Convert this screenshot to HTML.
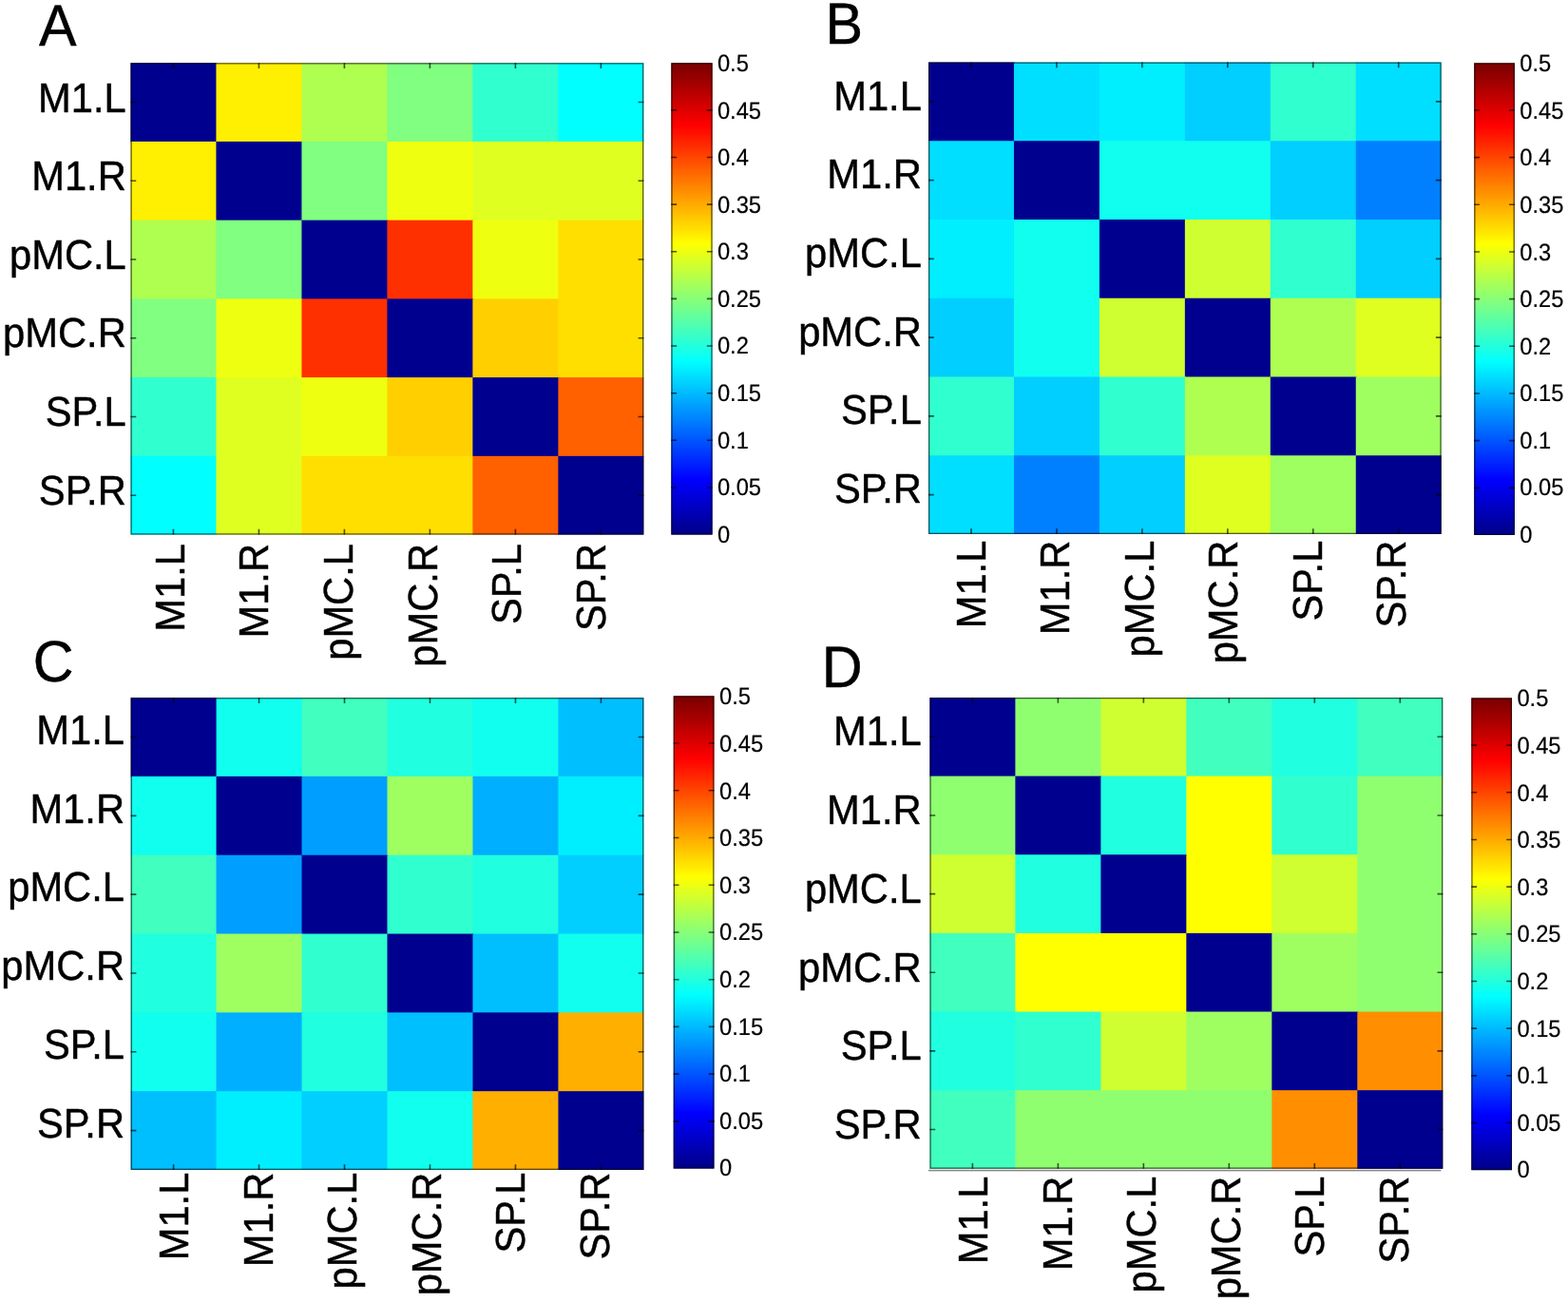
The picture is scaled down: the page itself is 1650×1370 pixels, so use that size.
<!DOCTYPE html>
<html lang="en"><head><meta charset="utf-8"><title>Connectivity matrices A-D</title>
<style>
html,body{margin:0;padding:0;background:#FFFFFF;width:1650px;height:1370px;}
svg{display:block;}
text{font-family:"Liberation Sans", Arial, Helvetica, sans-serif;fill:#000000;stroke:#000000;stroke-width:0.45px;stroke-linejoin:round;text-rendering:geometricPrecision;}
.t{font-size:41.7px;}
.c{font-size:23.7px;stroke-width:0.2px;}
.p{font-size:59.3px;}
</style></head><body>
<svg xmlns="http://www.w3.org/2000/svg" width="1650" height="1370" viewBox="0 0 1650 1370">
<defs><linearGradient id="jet" x1="0" y1="1" x2="0" y2="0">
<stop offset="0.00781" stop-color="#00008F"/>
<stop offset="0.02344" stop-color="#00009F"/>
<stop offset="0.03906" stop-color="#0000AF"/>
<stop offset="0.05469" stop-color="#0000BF"/>
<stop offset="0.07031" stop-color="#0000CF"/>
<stop offset="0.08594" stop-color="#0000DF"/>
<stop offset="0.10156" stop-color="#0000EF"/>
<stop offset="0.11719" stop-color="#0000FF"/>
<stop offset="0.13281" stop-color="#0010FF"/>
<stop offset="0.14844" stop-color="#0020FF"/>
<stop offset="0.16406" stop-color="#0030FF"/>
<stop offset="0.17969" stop-color="#0040FF"/>
<stop offset="0.19531" stop-color="#0050FF"/>
<stop offset="0.21094" stop-color="#0060FF"/>
<stop offset="0.22656" stop-color="#0070FF"/>
<stop offset="0.24219" stop-color="#0080FF"/>
<stop offset="0.25781" stop-color="#008FFF"/>
<stop offset="0.27344" stop-color="#009FFF"/>
<stop offset="0.28906" stop-color="#00AFFF"/>
<stop offset="0.30469" stop-color="#00BFFF"/>
<stop offset="0.32031" stop-color="#00CFFF"/>
<stop offset="0.33594" stop-color="#00DFFF"/>
<stop offset="0.35156" stop-color="#00EFFF"/>
<stop offset="0.36719" stop-color="#00FFFF"/>
<stop offset="0.38281" stop-color="#10FFEF"/>
<stop offset="0.39844" stop-color="#20FFDF"/>
<stop offset="0.41406" stop-color="#30FFCF"/>
<stop offset="0.42969" stop-color="#40FFBF"/>
<stop offset="0.44531" stop-color="#50FFAF"/>
<stop offset="0.46094" stop-color="#60FF9F"/>
<stop offset="0.47656" stop-color="#70FF8F"/>
<stop offset="0.49219" stop-color="#80FF80"/>
<stop offset="0.50781" stop-color="#8FFF70"/>
<stop offset="0.52344" stop-color="#9FFF60"/>
<stop offset="0.53906" stop-color="#AFFF50"/>
<stop offset="0.55469" stop-color="#BFFF40"/>
<stop offset="0.57031" stop-color="#CFFF30"/>
<stop offset="0.58594" stop-color="#DFFF20"/>
<stop offset="0.60156" stop-color="#EFFF10"/>
<stop offset="0.61719" stop-color="#FFFF00"/>
<stop offset="0.63281" stop-color="#FFEF00"/>
<stop offset="0.64844" stop-color="#FFDF00"/>
<stop offset="0.66406" stop-color="#FFCF00"/>
<stop offset="0.67969" stop-color="#FFBF00"/>
<stop offset="0.69531" stop-color="#FFAF00"/>
<stop offset="0.71094" stop-color="#FF9F00"/>
<stop offset="0.72656" stop-color="#FF8F00"/>
<stop offset="0.74219" stop-color="#FF8000"/>
<stop offset="0.75781" stop-color="#FF7000"/>
<stop offset="0.77344" stop-color="#FF6000"/>
<stop offset="0.78906" stop-color="#FF5000"/>
<stop offset="0.80469" stop-color="#FF4000"/>
<stop offset="0.82031" stop-color="#FF3000"/>
<stop offset="0.83594" stop-color="#FF2000"/>
<stop offset="0.85156" stop-color="#FF1000"/>
<stop offset="0.86719" stop-color="#FF0000"/>
<stop offset="0.88281" stop-color="#EF0000"/>
<stop offset="0.89844" stop-color="#DF0000"/>
<stop offset="0.91406" stop-color="#CF0000"/>
<stop offset="0.92969" stop-color="#BF0000"/>
<stop offset="0.94531" stop-color="#AF0000"/>
<stop offset="0.96094" stop-color="#9F0000"/>
<stop offset="0.97656" stop-color="#8F0000"/>
<stop offset="0.99219" stop-color="#800000"/>
</linearGradient></defs>
<g id="panel-A">
<text class="p" transform="translate(40.9 48.2) scale(1 1.035)">A</text>
<rect x="137.45" y="66.2" width="90.98" height="83.73" fill="#00008F"/>
<rect x="227.43" y="66.2" width="90.98" height="83.73" fill="#FFEF00"/>
<rect x="317.42" y="66.2" width="90.98" height="83.73" fill="#AFFF50"/>
<rect x="407.4" y="66.2" width="90.98" height="83.73" fill="#80FF80"/>
<rect x="497.38" y="66.2" width="90.98" height="83.73" fill="#30FFCF"/>
<rect x="587.37" y="66.2" width="89.98" height="83.73" fill="#00FFFF"/>
<rect x="137.45" y="148.93" width="90.98" height="83.73" fill="#FFEF00"/>
<rect x="227.43" y="148.93" width="90.98" height="83.73" fill="#00008F"/>
<rect x="317.42" y="148.93" width="90.98" height="83.73" fill="#80FF80"/>
<rect x="407.4" y="148.93" width="90.98" height="83.73" fill="#EFFF10"/>
<rect x="497.38" y="148.93" width="90.98" height="83.73" fill="#DFFF20"/>
<rect x="587.37" y="148.93" width="89.98" height="83.73" fill="#DFFF20"/>
<rect x="137.45" y="231.67" width="90.98" height="83.73" fill="#AFFF50"/>
<rect x="227.43" y="231.67" width="90.98" height="83.73" fill="#80FF80"/>
<rect x="317.42" y="231.67" width="90.98" height="83.73" fill="#00008F"/>
<rect x="407.4" y="231.67" width="90.98" height="83.73" fill="#FF3000"/>
<rect x="497.38" y="231.67" width="90.98" height="83.73" fill="#EFFF10"/>
<rect x="587.37" y="231.67" width="89.98" height="83.73" fill="#FFDF00"/>
<rect x="137.45" y="314.4" width="90.98" height="83.73" fill="#80FF80"/>
<rect x="227.43" y="314.4" width="90.98" height="83.73" fill="#EFFF10"/>
<rect x="317.42" y="314.4" width="90.98" height="83.73" fill="#FF3000"/>
<rect x="407.4" y="314.4" width="90.98" height="83.73" fill="#00008F"/>
<rect x="497.38" y="314.4" width="90.98" height="83.73" fill="#FFCF00"/>
<rect x="587.37" y="314.4" width="89.98" height="83.73" fill="#FFDF00"/>
<rect x="137.45" y="397.13" width="90.98" height="83.73" fill="#30FFCF"/>
<rect x="227.43" y="397.13" width="90.98" height="83.73" fill="#DFFF20"/>
<rect x="317.42" y="397.13" width="90.98" height="83.73" fill="#EFFF10"/>
<rect x="407.4" y="397.13" width="90.98" height="83.73" fill="#FFCF00"/>
<rect x="497.38" y="397.13" width="90.98" height="83.73" fill="#00008F"/>
<rect x="587.37" y="397.13" width="89.98" height="83.73" fill="#FF6000"/>
<rect x="137.45" y="479.87" width="90.98" height="82.73" fill="#00FFFF"/>
<rect x="227.43" y="479.87" width="90.98" height="82.73" fill="#DFFF20"/>
<rect x="317.42" y="479.87" width="90.98" height="82.73" fill="#FFDF00"/>
<rect x="407.4" y="479.87" width="90.98" height="82.73" fill="#FFDF00"/>
<rect x="497.38" y="479.87" width="90.98" height="82.73" fill="#FF6000"/>
<rect x="587.37" y="479.87" width="89.98" height="82.73" fill="#00008F"/>
<path d="M182.44 562.6v-5.8M182.44 66.2v5.8M137.45 107.57h5.8M677.35 107.57h-5.8M272.43 562.6v-5.8M272.43 66.2v5.8M137.45 190.3h5.8M677.35 190.3h-5.8M362.41 562.6v-5.8M362.41 66.2v5.8M137.45 273.03h5.8M677.35 273.03h-5.8M452.39 562.6v-5.8M452.39 66.2v5.8M137.45 355.77h5.8M677.35 355.77h-5.8M542.38 562.6v-5.8M542.38 66.2v5.8M137.45 438.5h5.8M677.35 438.5h-5.8M632.36 562.6v-5.8M632.36 66.2v5.8M137.45 521.23h5.8M677.35 521.23h-5.8" stroke="#000000" stroke-width="1.6" fill="none" stroke-opacity="0.65"/>
<rect x="138.1" y="66.85" width="538.6" height="495.1" fill="none" stroke="#000000" stroke-width="1.3" stroke-opacity="0.62"/>
<text class="t" text-anchor="end" transform="translate(132.8 118) scale(1 1.045)">M1.L</text>
<text class="t" text-anchor="end" transform="translate(132.8 200) scale(1 1.045)">M1.R</text>
<text class="t" text-anchor="end" transform="translate(132.8 283) scale(1 1.045)">pMC.L</text>
<text class="t" text-anchor="end" transform="translate(132.8 365) scale(1 1.045)">pMC.R</text>
<text class="t" text-anchor="end" transform="translate(132.8 448) scale(1 1.045)">SP.L</text>
<text class="t" text-anchor="end" transform="translate(132.8 531) scale(1 1.045)">SP.R</text>
<text class="t" text-anchor="end" transform="translate(193.8 572) rotate(-90) scale(1 1.045)">M1.L</text>
<text class="t" text-anchor="end" transform="translate(282.4 572) rotate(-90) scale(1 1.045)">M1.R</text>
<text class="t" text-anchor="end" transform="translate(371 572) rotate(-90) scale(1 1.045)">pMC.L</text>
<text class="t" text-anchor="end" transform="translate(459.6 572) rotate(-90) scale(1 1.045)">pMC.R</text>
<text class="t" text-anchor="end" transform="translate(548.2 572) rotate(-90) scale(1 1.045)">SP.L</text>
<text class="t" text-anchor="end" transform="translate(636.8 572) rotate(-90) scale(1 1.045)">SP.R</text>
<rect x="706.3" y="66.2" width="43.35" height="496.4" fill="url(#jet)"/>
<path d="M706.3 512.96h5.8M749.65 512.96h-5.8M706.3 463.32h5.8M749.65 463.32h-5.8M706.3 413.68h5.8M749.65 413.68h-5.8M706.3 364.04h5.8M749.65 364.04h-5.8M706.3 314.4h5.8M749.65 314.4h-5.8M706.3 264.76h5.8M749.65 264.76h-5.8M706.3 215.12h5.8M749.65 215.12h-5.8M706.3 165.48h5.8M749.65 165.48h-5.8M706.3 115.84h5.8M749.65 115.84h-5.8" stroke="#000000" stroke-width="1.6" fill="none" stroke-opacity="0.65"/>
<rect x="706.95" y="66.85" width="42.05" height="495.1" fill="none" stroke="#000000" stroke-width="1.3" stroke-opacity="0.62"/>
<text class="c" transform="translate(754.9 570.7) scale(1 1.06)">0</text>
<text class="c" transform="translate(754.9 521.13) scale(1 1.06)">0.05</text>
<text class="c" transform="translate(754.9 471.56) scale(1 1.06)">0.1</text>
<text class="c" transform="translate(754.9 421.99) scale(1 1.06)">0.15</text>
<text class="c" transform="translate(754.9 372.42) scale(1 1.06)">0.2</text>
<text class="c" transform="translate(754.9 322.85) scale(1 1.06)">0.25</text>
<text class="c" transform="translate(754.9 273.28) scale(1 1.06)">0.3</text>
<text class="c" transform="translate(754.9 223.71) scale(1 1.06)">0.35</text>
<text class="c" transform="translate(754.9 174.14) scale(1 1.06)">0.4</text>
<text class="c" transform="translate(754.9 124.57) scale(1 1.06)">0.45</text>
<text class="c" transform="translate(754.9 75) scale(1 1.06)">0.5</text>
</g>
<g id="panel-B">
<text class="p" transform="translate(868.5 45.8) scale(1 1.035)">B</text>
<rect x="977" y="65.5" width="90.95" height="83.75" fill="#00008F"/>
<rect x="1066.95" y="65.5" width="90.95" height="83.75" fill="#00DFFF"/>
<rect x="1156.9" y="65.5" width="90.95" height="83.75" fill="#00EFFF"/>
<rect x="1246.85" y="65.5" width="90.95" height="83.75" fill="#00CFFF"/>
<rect x="1336.8" y="65.5" width="90.95" height="83.75" fill="#30FFCF"/>
<rect x="1426.75" y="65.5" width="89.95" height="83.75" fill="#00DFFF"/>
<rect x="977" y="148.25" width="90.95" height="83.75" fill="#00DFFF"/>
<rect x="1066.95" y="148.25" width="90.95" height="83.75" fill="#00008F"/>
<rect x="1156.9" y="148.25" width="90.95" height="83.75" fill="#10FFEF"/>
<rect x="1246.85" y="148.25" width="90.95" height="83.75" fill="#10FFEF"/>
<rect x="1336.8" y="148.25" width="90.95" height="83.75" fill="#00CFFF"/>
<rect x="1426.75" y="148.25" width="89.95" height="83.75" fill="#0080FF"/>
<rect x="977" y="231" width="90.95" height="83.75" fill="#00EFFF"/>
<rect x="1066.95" y="231" width="90.95" height="83.75" fill="#10FFEF"/>
<rect x="1156.9" y="231" width="90.95" height="83.75" fill="#00008F"/>
<rect x="1246.85" y="231" width="90.95" height="83.75" fill="#CFFF30"/>
<rect x="1336.8" y="231" width="90.95" height="83.75" fill="#30FFCF"/>
<rect x="1426.75" y="231" width="89.95" height="83.75" fill="#00CFFF"/>
<rect x="977" y="313.75" width="90.95" height="83.75" fill="#00CFFF"/>
<rect x="1066.95" y="313.75" width="90.95" height="83.75" fill="#10FFEF"/>
<rect x="1156.9" y="313.75" width="90.95" height="83.75" fill="#CFFF30"/>
<rect x="1246.85" y="313.75" width="90.95" height="83.75" fill="#00008F"/>
<rect x="1336.8" y="313.75" width="90.95" height="83.75" fill="#AFFF50"/>
<rect x="1426.75" y="313.75" width="89.95" height="83.75" fill="#DFFF20"/>
<rect x="977" y="396.5" width="90.95" height="83.75" fill="#30FFCF"/>
<rect x="1066.95" y="396.5" width="90.95" height="83.75" fill="#00CFFF"/>
<rect x="1156.9" y="396.5" width="90.95" height="83.75" fill="#30FFCF"/>
<rect x="1246.85" y="396.5" width="90.95" height="83.75" fill="#AFFF50"/>
<rect x="1336.8" y="396.5" width="90.95" height="83.75" fill="#00008F"/>
<rect x="1426.75" y="396.5" width="89.95" height="83.75" fill="#9FFF60"/>
<rect x="977" y="479.25" width="90.95" height="82.75" fill="#00DFFF"/>
<rect x="1066.95" y="479.25" width="90.95" height="82.75" fill="#0080FF"/>
<rect x="1156.9" y="479.25" width="90.95" height="82.75" fill="#00CFFF"/>
<rect x="1246.85" y="479.25" width="90.95" height="82.75" fill="#DFFF20"/>
<rect x="1336.8" y="479.25" width="90.95" height="82.75" fill="#9FFF60"/>
<rect x="1426.75" y="479.25" width="89.95" height="82.75" fill="#00008F"/>
<path d="M1021.98 562v-5.8M1021.98 65.5v5.8M977 106.88h5.8M1516.7 106.88h-5.8M1111.92 562v-5.8M1111.92 65.5v5.8M977 189.62h5.8M1516.7 189.62h-5.8M1201.88 562v-5.8M1201.88 65.5v5.8M977 272.38h5.8M1516.7 272.38h-5.8M1291.83 562v-5.8M1291.83 65.5v5.8M977 355.12h5.8M1516.7 355.12h-5.8M1381.78 562v-5.8M1381.78 65.5v5.8M977 437.88h5.8M1516.7 437.88h-5.8M1471.72 562v-5.8M1471.72 65.5v5.8M977 520.62h5.8M1516.7 520.62h-5.8" stroke="#000000" stroke-width="1.6" fill="none" stroke-opacity="0.65"/>
<rect x="977.65" y="66.15" width="538.4" height="495.2" fill="none" stroke="#000000" stroke-width="1.3" stroke-opacity="0.62"/>
<text class="t" text-anchor="end" transform="translate(969.9 115.7) scale(1 1.045)">M1.L</text>
<text class="t" text-anchor="end" transform="translate(969.9 198.35) scale(1 1.045)">M1.R</text>
<text class="t" text-anchor="end" transform="translate(969.9 281) scale(1 1.045)">pMC.L</text>
<text class="t" text-anchor="end" transform="translate(969.9 363.65) scale(1 1.045)">pMC.R</text>
<text class="t" text-anchor="end" transform="translate(969.9 446.3) scale(1 1.045)">SP.L</text>
<text class="t" text-anchor="end" transform="translate(969.9 528.95) scale(1 1.045)">SP.R</text>
<text class="t" text-anchor="end" transform="translate(1036.5 568.6) rotate(-90) scale(1 1.045)">M1.L</text>
<text class="t" text-anchor="end" transform="translate(1125 568.6) rotate(-90) scale(1 1.045)">M1.R</text>
<text class="t" text-anchor="end" transform="translate(1213.5 568.6) rotate(-90) scale(1 1.045)">pMC.L</text>
<text class="t" text-anchor="end" transform="translate(1302 568.6) rotate(-90) scale(1 1.045)">pMC.R</text>
<text class="t" text-anchor="end" transform="translate(1390.5 568.6) rotate(-90) scale(1 1.045)">SP.L</text>
<text class="t" text-anchor="end" transform="translate(1479 568.6) rotate(-90) scale(1 1.045)">SP.R</text>
<rect x="1551.2" y="66.3" width="42.7" height="496.7" fill="url(#jet)"/>
<path d="M1551.2 513.33h5.8M1593.9 513.33h-5.8M1551.2 463.66h5.8M1593.9 463.66h-5.8M1551.2 413.99h5.8M1593.9 413.99h-5.8M1551.2 364.32h5.8M1593.9 364.32h-5.8M1551.2 314.65h5.8M1593.9 314.65h-5.8M1551.2 264.98h5.8M1593.9 264.98h-5.8M1551.2 215.31h5.8M1593.9 215.31h-5.8M1551.2 165.64h5.8M1593.9 165.64h-5.8M1551.2 115.97h5.8M1593.9 115.97h-5.8" stroke="#000000" stroke-width="1.6" fill="none" stroke-opacity="0.65"/>
<rect x="1551.85" y="66.95" width="41.4" height="495.4" fill="none" stroke="#000000" stroke-width="1.3" stroke-opacity="0.62"/>
<text class="c" transform="translate(1599.3 571) scale(1 1.06)">0</text>
<text class="c" transform="translate(1599.3 521.43) scale(1 1.06)">0.05</text>
<text class="c" transform="translate(1599.3 471.86) scale(1 1.06)">0.1</text>
<text class="c" transform="translate(1599.3 422.29) scale(1 1.06)">0.15</text>
<text class="c" transform="translate(1599.3 372.72) scale(1 1.06)">0.2</text>
<text class="c" transform="translate(1599.3 323.15) scale(1 1.06)">0.25</text>
<text class="c" transform="translate(1599.3 273.58) scale(1 1.06)">0.3</text>
<text class="c" transform="translate(1599.3 224.01) scale(1 1.06)">0.35</text>
<text class="c" transform="translate(1599.3 174.44) scale(1 1.06)">0.4</text>
<text class="c" transform="translate(1599.3 124.87) scale(1 1.06)">0.45</text>
<text class="c" transform="translate(1599.3 75.3) scale(1 1.06)">0.5</text>
</g>
<g id="panel-C">
<text class="p" transform="translate(34.7 716.8) scale(1 1.035)">C</text>
<rect x="137.6" y="734.1" width="90.97" height="83.82" fill="#00008F"/>
<rect x="227.57" y="734.1" width="90.97" height="83.82" fill="#10FFEF"/>
<rect x="317.53" y="734.1" width="90.97" height="83.82" fill="#40FFBF"/>
<rect x="407.5" y="734.1" width="90.97" height="83.82" fill="#20FFDF"/>
<rect x="497.47" y="734.1" width="90.97" height="83.82" fill="#10FFEF"/>
<rect x="587.43" y="734.1" width="89.97" height="83.82" fill="#00BFFF"/>
<rect x="137.6" y="816.92" width="90.97" height="83.82" fill="#10FFEF"/>
<rect x="227.57" y="816.92" width="90.97" height="83.82" fill="#00008F"/>
<rect x="317.53" y="816.92" width="90.97" height="83.82" fill="#009FFF"/>
<rect x="407.5" y="816.92" width="90.97" height="83.82" fill="#9FFF60"/>
<rect x="497.47" y="816.92" width="90.97" height="83.82" fill="#00AFFF"/>
<rect x="587.43" y="816.92" width="89.97" height="83.82" fill="#00EFFF"/>
<rect x="137.6" y="899.73" width="90.97" height="83.82" fill="#40FFBF"/>
<rect x="227.57" y="899.73" width="90.97" height="83.82" fill="#009FFF"/>
<rect x="317.53" y="899.73" width="90.97" height="83.82" fill="#00008F"/>
<rect x="407.5" y="899.73" width="90.97" height="83.82" fill="#30FFCF"/>
<rect x="497.47" y="899.73" width="90.97" height="83.82" fill="#20FFDF"/>
<rect x="587.43" y="899.73" width="89.97" height="83.82" fill="#00CFFF"/>
<rect x="137.6" y="982.55" width="90.97" height="83.82" fill="#20FFDF"/>
<rect x="227.57" y="982.55" width="90.97" height="83.82" fill="#9FFF60"/>
<rect x="317.53" y="982.55" width="90.97" height="83.82" fill="#30FFCF"/>
<rect x="407.5" y="982.55" width="90.97" height="83.82" fill="#00008F"/>
<rect x="497.47" y="982.55" width="90.97" height="83.82" fill="#00BFFF"/>
<rect x="587.43" y="982.55" width="89.97" height="83.82" fill="#10FFEF"/>
<rect x="137.6" y="1065.37" width="90.97" height="83.82" fill="#10FFEF"/>
<rect x="227.57" y="1065.37" width="90.97" height="83.82" fill="#00AFFF"/>
<rect x="317.53" y="1065.37" width="90.97" height="83.82" fill="#20FFDF"/>
<rect x="407.5" y="1065.37" width="90.97" height="83.82" fill="#00BFFF"/>
<rect x="497.47" y="1065.37" width="90.97" height="83.82" fill="#00008F"/>
<rect x="587.43" y="1065.37" width="89.97" height="83.82" fill="#FFAF00"/>
<rect x="137.6" y="1148.18" width="90.97" height="82.82" fill="#00BFFF"/>
<rect x="227.57" y="1148.18" width="90.97" height="82.82" fill="#00EFFF"/>
<rect x="317.53" y="1148.18" width="90.97" height="82.82" fill="#00CFFF"/>
<rect x="407.5" y="1148.18" width="90.97" height="82.82" fill="#10FFEF"/>
<rect x="497.47" y="1148.18" width="90.97" height="82.82" fill="#FFAF00"/>
<rect x="587.43" y="1148.18" width="89.97" height="82.82" fill="#00008F"/>
<path d="M182.58 1231v-5.8M182.58 734.1v5.8M137.6 775.51h5.8M677.4 775.51h-5.8M272.55 1231v-5.8M272.55 734.1v5.8M137.6 858.33h5.8M677.4 858.33h-5.8M362.52 1231v-5.8M362.52 734.1v5.8M137.6 941.14h5.8M677.4 941.14h-5.8M452.48 1231v-5.8M452.48 734.1v5.8M137.6 1023.96h5.8M677.4 1023.96h-5.8M542.45 1231v-5.8M542.45 734.1v5.8M137.6 1106.78h5.8M677.4 1106.78h-5.8M632.42 1231v-5.8M632.42 734.1v5.8M137.6 1189.59h5.8M677.4 1189.59h-5.8" stroke="#000000" stroke-width="1.6" fill="none" stroke-opacity="0.65"/>
<rect x="138.25" y="734.75" width="538.5" height="495.6" fill="none" stroke="#000000" stroke-width="1.3" stroke-opacity="0.62"/>
<text class="t" text-anchor="end" transform="translate(131 783) scale(1 1.045)">M1.L</text>
<text class="t" text-anchor="end" transform="translate(131 865.7) scale(1 1.045)">M1.R</text>
<text class="t" text-anchor="end" transform="translate(131 948.4) scale(1 1.045)">pMC.L</text>
<text class="t" text-anchor="end" transform="translate(131 1031.1) scale(1 1.045)">pMC.R</text>
<text class="t" text-anchor="end" transform="translate(131 1113.8) scale(1 1.045)">SP.L</text>
<text class="t" text-anchor="end" transform="translate(131 1196.5) scale(1 1.045)">SP.R</text>
<text class="t" text-anchor="end" transform="translate(197.9 1233.6) rotate(-90) scale(1 1.045)">M1.L</text>
<text class="t" text-anchor="end" transform="translate(286.5 1233.6) rotate(-90) scale(1 1.045)">M1.R</text>
<text class="t" text-anchor="end" transform="translate(375.1 1233.6) rotate(-90) scale(1 1.045)">pMC.L</text>
<text class="t" text-anchor="end" transform="translate(463.7 1233.6) rotate(-90) scale(1 1.045)">pMC.R</text>
<text class="t" text-anchor="end" transform="translate(552.3 1233.6) rotate(-90) scale(1 1.045)">SP.L</text>
<text class="t" text-anchor="end" transform="translate(640.9 1233.6) rotate(-90) scale(1 1.045)">SP.R</text>
<rect x="708.7" y="732.3" width="42.8" height="497.3" fill="url(#jet)"/>
<path d="M708.7 1179.87h5.8M751.5 1179.87h-5.8M708.7 1130.14h5.8M751.5 1130.14h-5.8M708.7 1080.41h5.8M751.5 1080.41h-5.8M708.7 1030.68h5.8M751.5 1030.68h-5.8M708.7 980.95h5.8M751.5 980.95h-5.8M708.7 931.22h5.8M751.5 931.22h-5.8M708.7 881.49h5.8M751.5 881.49h-5.8M708.7 831.76h5.8M751.5 831.76h-5.8M708.7 782.03h5.8M751.5 782.03h-5.8" stroke="#000000" stroke-width="1.6" fill="none" stroke-opacity="0.65"/>
<rect x="709.35" y="732.95" width="41.5" height="496" fill="none" stroke="#000000" stroke-width="1.3" stroke-opacity="0.62"/>
<text class="c" transform="translate(757.1 1237.3) scale(1 1.06)">0</text>
<text class="c" transform="translate(757.1 1187.7) scale(1 1.06)">0.05</text>
<text class="c" transform="translate(757.1 1138.1) scale(1 1.06)">0.1</text>
<text class="c" transform="translate(757.1 1088.5) scale(1 1.06)">0.15</text>
<text class="c" transform="translate(757.1 1038.9) scale(1 1.06)">0.2</text>
<text class="c" transform="translate(757.1 989.3) scale(1 1.06)">0.25</text>
<text class="c" transform="translate(757.1 939.7) scale(1 1.06)">0.3</text>
<text class="c" transform="translate(757.1 890.1) scale(1 1.06)">0.35</text>
<text class="c" transform="translate(757.1 840.5) scale(1 1.06)">0.4</text>
<text class="c" transform="translate(757.1 790.9) scale(1 1.06)">0.45</text>
<text class="c" transform="translate(757.1 741.3) scale(1 1.06)">0.5</text>
</g>
<g id="panel-D">
<text class="p" transform="translate(864.7 722.7) scale(1 1.035)">D</text>
<rect x="978.4" y="734" width="90.98" height="83.63" fill="#00008F"/>
<rect x="1068.38" y="734" width="90.98" height="83.63" fill="#8FFF70"/>
<rect x="1158.37" y="734" width="90.98" height="83.63" fill="#CFFF30"/>
<rect x="1248.35" y="734" width="90.98" height="83.63" fill="#40FFBF"/>
<rect x="1338.33" y="734" width="90.98" height="83.63" fill="#20FFDF"/>
<rect x="1428.32" y="734" width="89.98" height="83.63" fill="#40FFBF"/>
<rect x="978.4" y="816.63" width="90.98" height="83.63" fill="#8FFF70"/>
<rect x="1068.38" y="816.63" width="90.98" height="83.63" fill="#00008F"/>
<rect x="1158.37" y="816.63" width="90.98" height="83.63" fill="#20FFDF"/>
<rect x="1248.35" y="816.63" width="90.98" height="83.63" fill="#FFFF00"/>
<rect x="1338.33" y="816.63" width="90.98" height="83.63" fill="#30FFCF"/>
<rect x="1428.32" y="816.63" width="89.98" height="83.63" fill="#8FFF70"/>
<rect x="978.4" y="899.27" width="90.98" height="83.63" fill="#CFFF30"/>
<rect x="1068.38" y="899.27" width="90.98" height="83.63" fill="#20FFDF"/>
<rect x="1158.37" y="899.27" width="90.98" height="83.63" fill="#00008F"/>
<rect x="1248.35" y="899.27" width="90.98" height="83.63" fill="#FFFF00"/>
<rect x="1338.33" y="899.27" width="90.98" height="83.63" fill="#CFFF30"/>
<rect x="1428.32" y="899.27" width="89.98" height="83.63" fill="#8FFF70"/>
<rect x="978.4" y="981.9" width="90.98" height="83.63" fill="#40FFBF"/>
<rect x="1068.38" y="981.9" width="90.98" height="83.63" fill="#FFFF00"/>
<rect x="1158.37" y="981.9" width="90.98" height="83.63" fill="#FFFF00"/>
<rect x="1248.35" y="981.9" width="90.98" height="83.63" fill="#00008F"/>
<rect x="1338.33" y="981.9" width="90.98" height="83.63" fill="#9FFF60"/>
<rect x="1428.32" y="981.9" width="89.98" height="83.63" fill="#8FFF70"/>
<rect x="978.4" y="1064.53" width="90.98" height="83.63" fill="#20FFDF"/>
<rect x="1068.38" y="1064.53" width="90.98" height="83.63" fill="#30FFCF"/>
<rect x="1158.37" y="1064.53" width="90.98" height="83.63" fill="#CFFF30"/>
<rect x="1248.35" y="1064.53" width="90.98" height="83.63" fill="#9FFF60"/>
<rect x="1338.33" y="1064.53" width="90.98" height="83.63" fill="#00008F"/>
<rect x="1428.32" y="1064.53" width="89.98" height="83.63" fill="#FF8F00"/>
<rect x="978.4" y="1147.17" width="90.98" height="82.63" fill="#40FFBF"/>
<rect x="1068.38" y="1147.17" width="90.98" height="82.63" fill="#8FFF70"/>
<rect x="1158.37" y="1147.17" width="90.98" height="82.63" fill="#8FFF70"/>
<rect x="1248.35" y="1147.17" width="90.98" height="82.63" fill="#8FFF70"/>
<rect x="1338.33" y="1147.17" width="90.98" height="82.63" fill="#FF8F00"/>
<rect x="1428.32" y="1147.17" width="89.98" height="82.63" fill="#00008F"/>
<rect x="977" y="1230.8" width="539.4" height="1.6" fill="#8E878E"/>
<path d="M1023.39 1229.8v-5.8M1023.39 734v5.8M978.4 775.32h5.8M1518.3 775.32h-5.8M1113.38 1229.8v-5.8M1113.38 734v5.8M978.4 857.95h5.8M1518.3 857.95h-5.8M1203.36 1229.8v-5.8M1203.36 734v5.8M978.4 940.58h5.8M1518.3 940.58h-5.8M1293.34 1229.8v-5.8M1293.34 734v5.8M978.4 1023.22h5.8M1518.3 1023.22h-5.8M1383.33 1229.8v-5.8M1383.33 734v5.8M978.4 1105.85h5.8M1518.3 1105.85h-5.8M1473.31 1229.8v-5.8M1473.31 734v5.8M978.4 1188.48h5.8M1518.3 1188.48h-5.8" stroke="#000000" stroke-width="1.6" fill="none" stroke-opacity="0.65"/>
<rect x="979.05" y="734.65" width="538.6" height="494.5" fill="none" stroke="#000000" stroke-width="1.3" stroke-opacity="0.62"/>
<text class="t" text-anchor="end" transform="translate(969.7 784.4) scale(1 1.045)">M1.L</text>
<text class="t" text-anchor="end" transform="translate(969.7 867.1) scale(1 1.045)">M1.R</text>
<text class="t" text-anchor="end" transform="translate(969.7 949.8) scale(1 1.045)">pMC.L</text>
<text class="t" text-anchor="end" transform="translate(969.7 1032.5) scale(1 1.045)">pMC.R</text>
<text class="t" text-anchor="end" transform="translate(969.7 1115.2) scale(1 1.045)">SP.L</text>
<text class="t" text-anchor="end" transform="translate(969.7 1197.9) scale(1 1.045)">SP.R</text>
<text class="t" text-anchor="end" transform="translate(1039 1237.6) rotate(-90) scale(1 1.045)">M1.L</text>
<text class="t" text-anchor="end" transform="translate(1127.5 1237.6) rotate(-90) scale(1 1.045)">M1.R</text>
<text class="t" text-anchor="end" transform="translate(1216 1237.6) rotate(-90) scale(1 1.045)">pMC.L</text>
<text class="t" text-anchor="end" transform="translate(1304.5 1237.6) rotate(-90) scale(1 1.045)">pMC.R</text>
<text class="t" text-anchor="end" transform="translate(1393 1237.6) rotate(-90) scale(1 1.045)">SP.L</text>
<text class="t" text-anchor="end" transform="translate(1481.5 1237.6) rotate(-90) scale(1 1.045)">SP.R</text>
<rect x="1548.3" y="734.4" width="42.7" height="496.8" fill="url(#jet)"/>
<path d="M1548.3 1181.52h5.8M1591 1181.52h-5.8M1548.3 1131.84h5.8M1591 1131.84h-5.8M1548.3 1082.16h5.8M1591 1082.16h-5.8M1548.3 1032.48h5.8M1591 1032.48h-5.8M1548.3 982.8h5.8M1591 982.8h-5.8M1548.3 933.12h5.8M1591 933.12h-5.8M1548.3 883.44h5.8M1591 883.44h-5.8M1548.3 833.76h5.8M1591 833.76h-5.8M1548.3 784.08h5.8M1591 784.08h-5.8" stroke="#000000" stroke-width="1.6" fill="none" stroke-opacity="0.65"/>
<rect x="1548.95" y="735.05" width="41.4" height="495.5" fill="none" stroke="#000000" stroke-width="1.3" stroke-opacity="0.62"/>
<text class="c" transform="translate(1596.4 1239.3) scale(1 1.06)">0</text>
<text class="c" transform="translate(1596.4 1189.7) scale(1 1.06)">0.05</text>
<text class="c" transform="translate(1596.4 1140.1) scale(1 1.06)">0.1</text>
<text class="c" transform="translate(1596.4 1090.5) scale(1 1.06)">0.15</text>
<text class="c" transform="translate(1596.4 1040.9) scale(1 1.06)">0.2</text>
<text class="c" transform="translate(1596.4 991.3) scale(1 1.06)">0.25</text>
<text class="c" transform="translate(1596.4 941.7) scale(1 1.06)">0.3</text>
<text class="c" transform="translate(1596.4 892.1) scale(1 1.06)">0.35</text>
<text class="c" transform="translate(1596.4 842.5) scale(1 1.06)">0.4</text>
<text class="c" transform="translate(1596.4 792.9) scale(1 1.06)">0.45</text>
<text class="c" transform="translate(1596.4 743.3) scale(1 1.06)">0.5</text>
</g>
</svg></body></html>
